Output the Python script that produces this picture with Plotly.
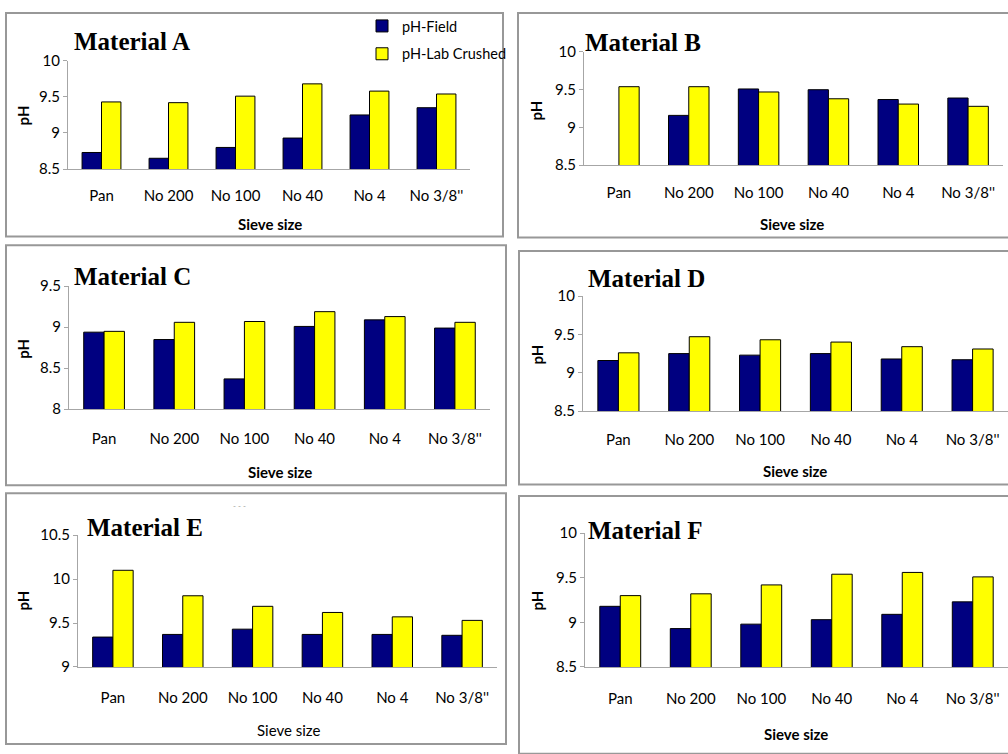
import plotly.graph_objects as go

W, H = 1008, 754

sieves = ["Pan", "No 200", "No 100", "No 40", "No 4", "No 3/8''"]

field_a = [8.73, 8.65, 8.80, 8.93, 9.25, 9.35]
lab_a = [9.43, 9.42, 9.51, 9.68, 9.58, 9.54]
field_b = [None, 9.16, 9.51, 9.50, 9.37, 9.39]
lab_b = [9.54, 9.54, 9.47, 9.38, 9.31, 9.28]
field_c = [8.94, 8.85, 8.37, 9.01, 9.09, 8.99]
lab_c = [8.95, 9.06, 9.07, 9.19, 9.13, 9.06]
field_d = [9.16, 9.25, 9.23, 9.25, 9.18, 9.17]
lab_d = [9.26, 9.47, 9.43, 9.40, 9.34, 9.31]
field_e = [9.34, 9.37, 9.43, 9.37, 9.37, 9.36]
lab_e = [10.10, 9.81, 9.69, 9.62, 9.57, 9.53]
field_f = [9.18, 8.93, 8.98, 9.03, 9.09, 9.23]
lab_f = [9.30, 9.32, 9.42, 9.54, 9.56, 9.51]

ticks_a = [8.5, 9, 9.5, 10]
ticks_c = [8, 8.5, 9, 9.5]
ticks_e = [9, 9.5, 10, 10.5]

NAVY = "#000080"
YELLOW = "#FFFF00"
AXIS = "#a6a6a6"
FRAME = "#989898"
FONT = "Lato"
INK = "#000000"


def px(x):
    return x / W


def py(y):
    return 1 - y / H


# one entry per panel: data, pixel frame of the plot area, outer box and label spots
panels = [
    dict(name="Material A", field=field_a, lab=lab_a, ticks=ticks_a,
         plot=(68, 52, 470, 163), box=(6, 3, 503, 232), pad=13,
         title=(73, 32), ylab=(23, 108), xlab=(270, 219), xbold=True, cover=False),
    dict(name="Material B", field=field_b, lab=lab_b, ticks=ticks_a,
         plot=(584, 43, 1003, 159), box=(518, 3, 1012, 233), pad=14,
         title=(584, 33), ylab=(536, 103), xlab=(792, 219), xbold=True, cover=False),
    dict(name="Material C", field=field_c, lab=lab_c, ticks=ticks_c,
         plot=(69, 283, 490, 409), box=(6, 241, 506, 487), pad=16,
         title=(73, 273), ylab=(23, 347), xlab=(280, 473), xbold=True, cover=True),
    dict(name="Material D", field=field_d, lab=lab_d, ticks=ticks_a,
         plot=(583, 293, 1008, 411), box=(519, 247, 1012, 486), pad=15,
         title=(587, 275), ylab=(537, 353), xlab=(795, 472), xbold=True, cover=False),
    dict(name="Material E", field=field_e, lab=lab_e, ticks=ticks_e,
         plot=(78, 538, 497, 673), box=(6, 495, 506, 752), pad=17,
         title=(86, 530), ylab=(23, 605), xlab=(288, 738), xbold=False, cover=False),
    dict(name="Material F", field=field_f, lab=lab_f, ticks=ticks_a,
         plot=(585, 536, 1008, 673), box=(519, 498, 1012, 762), pad=18,
         title=(587, 533), ylab=(537, 605), xlab=(796, 742), xbold=True, cover=False),
]

fig = go.Figure()
layout = dict(
    width=W, height=H,
    margin=dict(l=0, r=0, t=0, b=0),
    paper_bgcolor="white", plot_bgcolor="white",
    barmode="group", bargap=0.42, bargroupgap=0,
    font=dict(family=FONT, size=15, color=INK),
    showlegend=True,
    legend=dict(x=px(362), y=py(0), xanchor="left", yanchor="top",
                font=dict(family=FONT, size=14.5, color=INK),
                bgcolor="rgba(0,0,0,0)", traceorder="grouped",
                tracegroupgap=6, itemwidth=30),
    shapes=[], annotations=[],
)

for i, p in enumerate(panels):
    n = "" if i == 0 else str(i + 1)
    xa, ya = "x" + n, "y" + n
    x0, y0, x1, y1 = p["plot"]
    fig.add_trace(go.Bar(
        x=sieves, y=p["field"], name="pH-Field", xaxis=xa, yaxis=ya,
        marker=dict(color=NAVY, line=dict(color="#000000", width=1)),
        showlegend=(i == 0), legendgroup="field"))
    fig.add_trace(go.Bar(
        x=sieves, y=p["lab"], name="pH-Lab Crushed", xaxis=xa, yaxis=ya,
        marker=dict(color=YELLOW, line=dict(color="#000000", width=1)),
        showlegend=(i == 0), legendgroup="lab"))

    layout["xaxis" + n] = dict(
        domain=[px(x0), px(x1)], anchor=ya,
        showline=True, linecolor=AXIS, linewidth=1,
        ticks="outside", ticklen=p["pad"], tickcolor="rgba(0,0,0,0)",
        showgrid=False, zeroline=False, fixedrange=True,
        tickfont=dict(family=FONT, size=15, color=INK),
    )
    layout["yaxis" + n] = dict(
        domain=[py(y1), py(y0)], anchor=xa,
        range=[p["ticks"][0], p["ticks"][-1]],
        tickvals=p["ticks"], ticktext=[f"{t:g}" for t in p["ticks"]],
        showline=True, linecolor=AXIS, linewidth=1,
        ticks="outside", ticklen=4, tickcolor=AXIS,
        showgrid=False, zeroline=False, fixedrange=True,
        tickfont=dict(family=FONT, size=15, color=INK),
    )

    bx0, by0, bx1, by1 = p["box"]
    layout["shapes"].append(dict(
        type="rect", xref="paper", yref="paper",
        x0=px(bx0), x1=px(bx1), y0=py(by1), y1=py(by0),
        line=dict(color=FRAME, width=2), layer="below"))

    tx, ty = p["title"]
    layout["annotations"].append(dict(
        text="<b>" + p["name"] + "</b>", xref="paper", yref="paper",
        x=px(tx), y=py(ty), xanchor="left", yanchor="middle", showarrow=False,
        font=dict(family="Liberation Serif", size=25, color="#000000"),
        bgcolor="white" if p["cover"] else None, borderpad=0))

    lx, ly = p["ylab"]
    layout["annotations"].append(dict(
        text="<b>pH</b>", xref="paper", yref="paper", textangle=-90,
        x=px(lx), y=py(ly), xanchor="center", yanchor="middle", showarrow=False,
        font=dict(family=FONT, size=15, color=INK)))

    sx, sy = p["xlab"]
    layout["annotations"].append(dict(
        text=("<b>Sieve size</b>" if p["xbold"] else "Sieve size"),
        xref="paper", yref="paper",
        x=px(sx), y=py(sy), xanchor="center", yanchor="middle", showarrow=False,
        font=dict(family=FONT, size=15, color=INK)))

# small stray dash mark above the fifth chart
layout["annotations"].append(dict(
    text="- - -", xref="paper", yref="paper", x=px(239), y=py(508),
    xanchor="center", yanchor="middle", showarrow=False,
    font=dict(family=FONT, size=8, color="#9a9a9a")))

fig.update_layout(**layout)
fig.write_html("out.html")
